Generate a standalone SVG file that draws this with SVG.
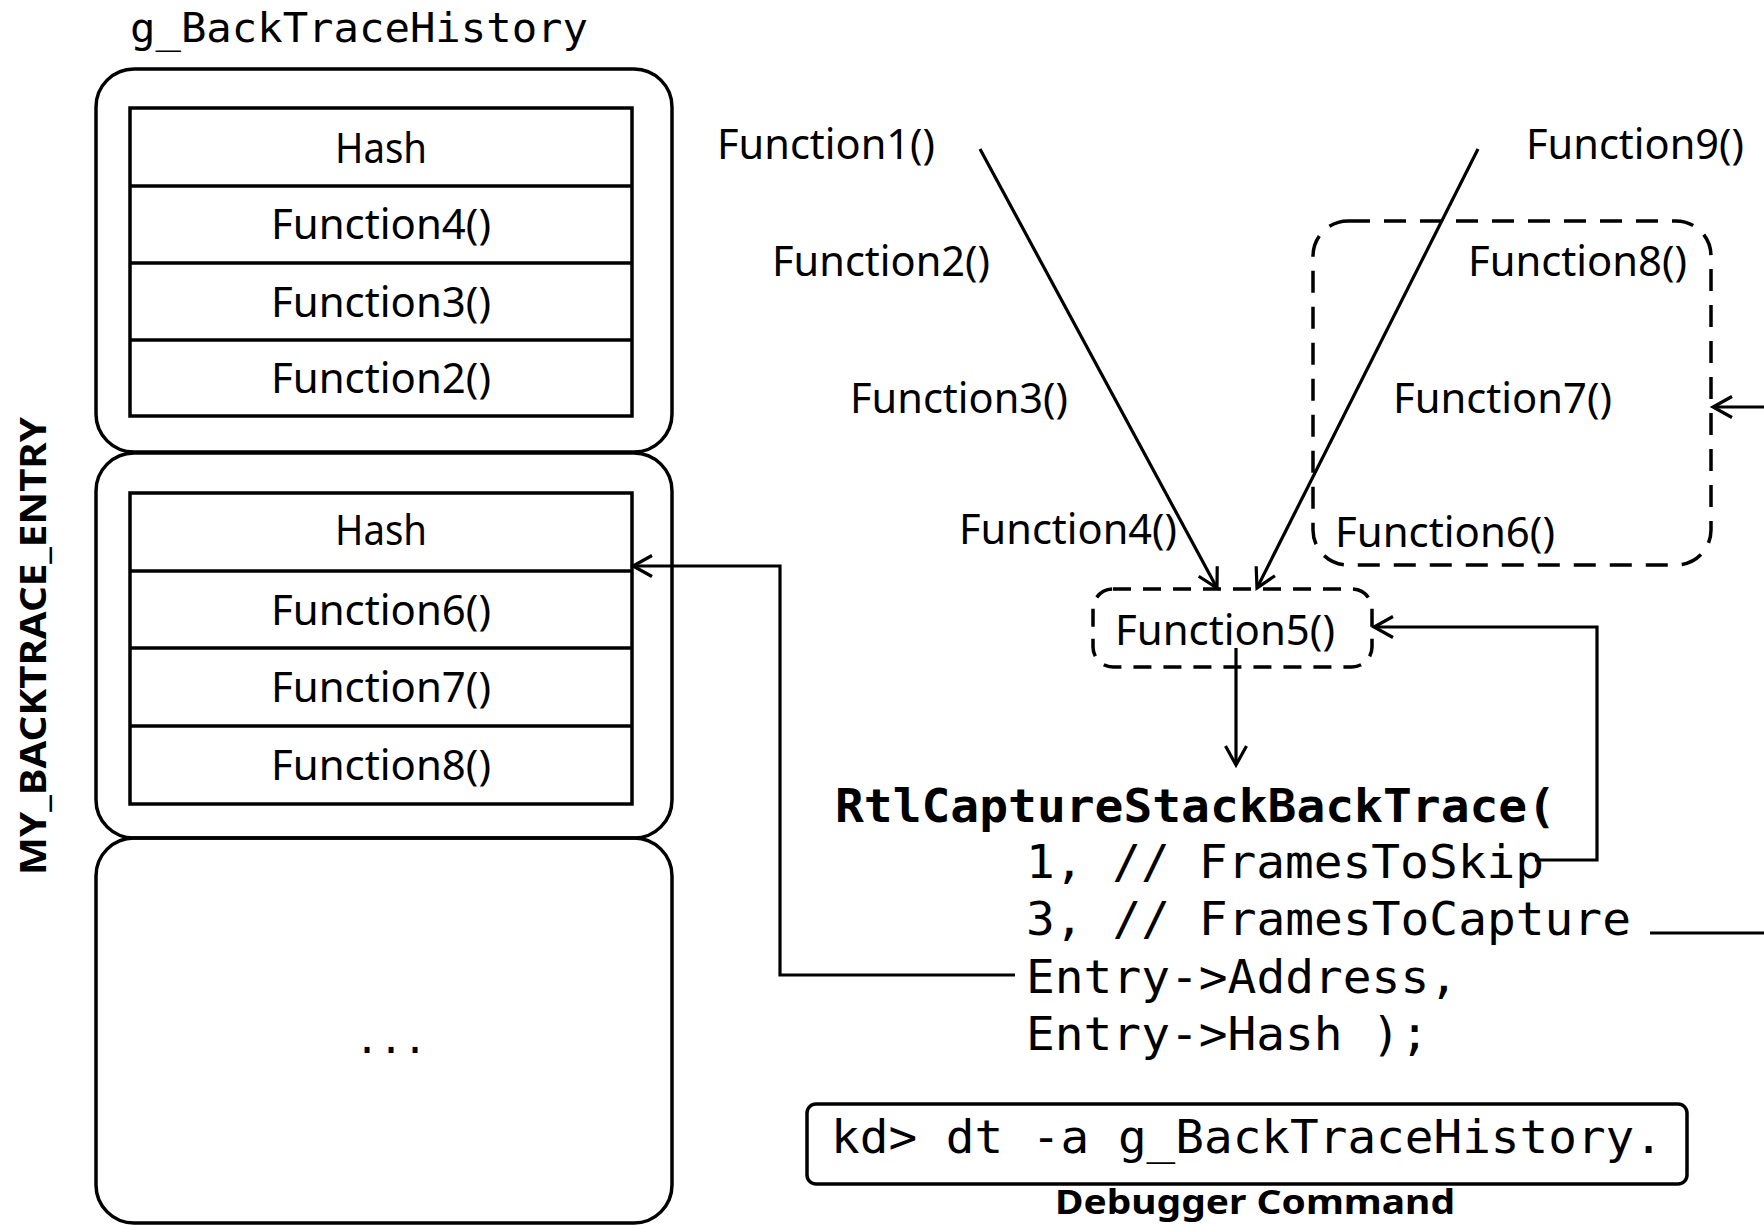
<svg xmlns="http://www.w3.org/2000/svg" width="1764" height="1225" viewBox="0 0 1764 1225">
  <defs>
    <style>
      .bg { fill: #ffffff; }
      .outer { fill: none; stroke: #000; stroke-width: 3.5; }
      .table { fill: none; stroke: #000; stroke-width: 3.5; }
      .dash { fill: none; stroke: #000; stroke-width: 3.5; stroke-dasharray: 22 14; }
      .dash-sm { fill: none; stroke: #000; stroke-width: 3.5; stroke-dasharray: 18 12; }
      .wire { fill: none; stroke: #000; stroke-width: 3.2; }
      .sans { font-family: "Noto Sans", "Open Sans", sans-serif; font-size: 41px; fill: #000; }
      .sans-b { font-family: "Noto Sans", "Open Sans", sans-serif; font-weight: bold; fill: #000; }
      .mono { font-family: "DejaVu Sans Mono", "Liberation Mono", monospace; fill: #000; }
      .code { font-family: "DejaVu Sans Mono", "Liberation Mono", monospace; font-size: 47px; fill: #000; }
      .mid { text-anchor: middle; }
    </style>
    <marker id="arrow" markerUnits="userSpaceOnUse" markerWidth="26" markerHeight="26" viewBox="0 0 26 26" refX="22" refY="13" orient="auto">
      <path d="M3,2.5 L22,13 L3,23.5" fill="none" stroke="#000" stroke-width="3.2"/>
    </marker>
  </defs>

  <rect class="bg" x="0" y="0" width="1764" height="1225"/>

  <!-- array title and element type label -->
  <g id="history-title">
    <text class="mono" x="130" y="42" font-size="41" textLength="458" lengthAdjust="spacingAndGlyphs">g_BackTraceHistory</text>
  </g>
  <g id="entry-type-label">
    <text class="sans-b mid" font-size="36" transform="translate(46,646) rotate(-90)" textLength="458" lengthAdjust="spacingAndGlyphs">MY_BACKTRACE_ENTRY</text>
  </g>

  <!-- entry 0 -->
  <g id="entry0">
    <rect class="outer" x="96" y="69" width="576" height="383" rx="38" ry="38"/>
    <rect class="table" x="130" y="108" width="502" height="308"/>
    <line class="table" x1="130" y1="186" x2="632" y2="186"/>
    <line class="table" x1="130" y1="263" x2="632" y2="263"/>
    <line class="table" x1="130" y1="340" x2="632" y2="340"/>
    <text class="sans mid" x="381" y="163" textLength="92" lengthAdjust="spacingAndGlyphs">Hash</text>
    <text class="sans mid" x="381" y="239" textLength="220" lengthAdjust="spacingAndGlyphs">Function4()</text>
    <text class="sans mid" x="381" y="317" textLength="220" lengthAdjust="spacingAndGlyphs">Function3()</text>
    <text class="sans mid" x="381" y="393" textLength="220" lengthAdjust="spacingAndGlyphs">Function2()</text>
  </g>

  <!-- entry 1 -->
  <g id="entry1">
    <rect class="outer" x="96" y="453" width="576" height="385" rx="38" ry="38"/>
    <rect class="table" x="130" y="493" width="502" height="311"/>
    <line class="table" x1="130" y1="571" x2="632" y2="571"/>
    <line class="table" x1="130" y1="648" x2="632" y2="648"/>
    <line class="table" x1="130" y1="726" x2="632" y2="726"/>
    <text class="sans mid" x="381" y="545" textLength="92" lengthAdjust="spacingAndGlyphs">Hash</text>
    <text class="sans mid" x="381" y="625" textLength="220" lengthAdjust="spacingAndGlyphs">Function6()</text>
    <text class="sans mid" x="381" y="702" textLength="220" lengthAdjust="spacingAndGlyphs">Function7()</text>
    <text class="sans mid" x="381" y="780" textLength="220" lengthAdjust="spacingAndGlyphs">Function8()</text>
  </g>

  <!-- remaining entries -->
  <g id="entry-rest">
    <rect class="outer" x="96" y="838" width="576" height="385" rx="38" ry="38"/>
    <text class="mono mid" x="391" y="1053" font-size="40">...</text>
  </g>

  <!-- call stack, left branch -->
  <g id="fn1"><text class="sans" x="717" y="159" textLength="218" lengthAdjust="spacingAndGlyphs">Function1()</text></g>
  <g id="fn2"><text class="sans" x="772" y="276" textLength="218" lengthAdjust="spacingAndGlyphs">Function2()</text></g>
  <g id="fn3"><text class="sans" x="850" y="413" textLength="218" lengthAdjust="spacingAndGlyphs">Function3()</text></g>
  <g id="fn4"><text class="sans" x="959" y="544" textLength="218" lengthAdjust="spacingAndGlyphs">Function4()</text></g>

  <!-- call stack, right branch -->
  <g id="fn9"><text class="sans" x="1526" y="159" textLength="218" lengthAdjust="spacingAndGlyphs">Function9()</text></g>
  <g id="captured-frames">
    <rect class="dash" x="1313" y="221" width="398" height="344" rx="35" ry="35"/>
    <text class="sans" x="1468" y="276" textLength="219" lengthAdjust="spacingAndGlyphs">Function8()</text>
    <text class="sans" x="1393" y="413" textLength="219" lengthAdjust="spacingAndGlyphs">Function7()</text>
    <text class="sans" x="1335" y="547" textLength="220" lengthAdjust="spacingAndGlyphs">Function6()</text>
  </g>

  <!-- skipped frame -->
  <g id="fn5">
    <rect class="dash-sm" x="1093" y="589" width="279" height="78" rx="20" ry="20"/>
    <text class="sans" x="1115" y="645" textLength="220" lengthAdjust="spacingAndGlyphs">Function5()</text>
  </g>

  <!-- capture call -->
  <g id="capture-call">
    <text class="code" x="835" y="822" font-weight="bold" textLength="721" lengthAdjust="spacingAndGlyphs">RtlCaptureStackBackTrace(</text>
    <text class="code" x="1026" y="878" textLength="518" lengthAdjust="spacingAndGlyphs">1, // FramesToSkip</text>
    <text class="code" x="1026" y="935" textLength="605" lengthAdjust="spacingAndGlyphs">3, // FramesToCapture</text>
    <text class="code" x="1026" y="993" textLength="432" lengthAdjust="spacingAndGlyphs">Entry-&gt;Address,</text>
    <text class="code" x="1026" y="1050" textLength="403" lengthAdjust="spacingAndGlyphs">Entry-&gt;Hash );</text>
  </g>

  <!-- debugger command -->
  <g id="debugger-command">
    <rect class="table" x="807" y="1104" width="880" height="80" rx="9" ry="9"/>
    <text class="code" x="831" y="1153" textLength="832" lengthAdjust="spacingAndGlyphs">kd&gt; dt -a g_BackTraceHistory.</text>
    <text class="sans-b mid" x="1255" y="1214" font-size="34" textLength="400" lengthAdjust="spacingAndGlyphs">Debugger Command</text>
  </g>

  <!-- connectors -->
  <g id="connectors">
    <line class="wire" x1="980" y1="149" x2="1217" y2="588" marker-end="url(#arrow)"/>
    <line class="wire" x1="1478" y1="149" x2="1257" y2="588" marker-end="url(#arrow)"/>
    <line class="wire" x1="1236" y1="648" x2="1236" y2="765" marker-end="url(#arrow)"/>
    <path class="wire" d="M1535,860 H1597 V627 H1374" marker-end="url(#arrow)"/>
    <path class="wire" d="M1015,975 H780 V566 H633" marker-end="url(#arrow)"/>
    <line class="wire" x1="1650" y1="933" x2="1764" y2="933"/>
    <line class="wire" x1="1764" y1="407" x2="1713" y2="407" marker-end="url(#arrow)"/>
  </g>
</svg>
